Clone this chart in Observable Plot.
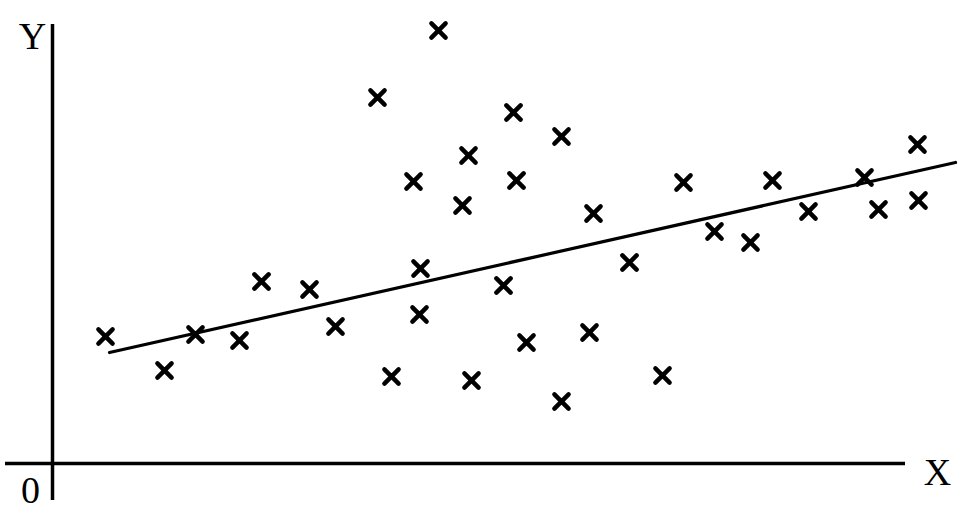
<!DOCTYPE html>
<html>
<head>
<meta charset="utf-8">
<script src="https://cdn.jsdelivr.net/npm/d3@7"></script>
<script src="https://cdn.jsdelivr.net/npm/@observablehq/plot@0.6"></script>
<style>
  html, body { margin: 0; padding: 0; background: #fff; }
  #chart svg { display: block; }
</style>
</head>
<body>
<div id="chart"></div>
<script>
// Scatter values (arbitrary units, origin at 0,0)
const xs = [5.3, 11.2, 14.3, 18.7, 20.9, 25.7, 28.3, 32.5, 33.9, 36.1, 36.8, 36.7, 38.6, 41.0, 41.6, 41.9, 45.1, 46.1, 46.4, 47.4, 50.9, 50.9, 53.7, 54.1, 57.7, 61.0, 63.1, 66.2, 69.8, 72.0, 75.6, 81.2, 82.6, 86.5, 86.6];
const ys = [12.7, 9.3, 12.9, 12.3, 18.2, 17.4, 13.7, 36.6, 8.7, 28.2, 19.5, 14.9, 43.3, 25.8, 30.8, 8.3, 17.8, 35.1, 28.3, 12.1, 32.7, 6.2, 13.1, 25.0, 20.1, 8.8, 28.1, 23.2, 22.1, 28.3, 25.2, 28.6, 25.4, 31.9, 26.3];
// Fitted line endpoints
const fitX = [5.7, 90.3];
const fitY = [11.1, 30.1];
// Axis extents and labels
const axisXExtent = [-4.7, 85.3];
const axisYExtent = [-3.7, 43.9];
const axisLabels = [
  {text: "Y", x: -2.0, y: 42.7},
  {text: "0", x: -2.2, y: -2.7},
  {text: "X", x: 88.5, y: -0.9}
];

const points = xs.map((x, i) => ({x, y: ys[i]}));
const fit = fitX.map((x, i) => ({x, y: fitY[i]}));

const chart = Plot.plot({
  width: 958,
  height: 522,
  margin: 0,
  x: {domain: [-5.2, 90.6], axis: null},
  y: {domain: [-5.9, 46.3], axis: null},
  marks: [
    Plot.ruleY([0], {x1: axisXExtent[0], x2: axisXExtent[1], stroke: "black", strokeWidth: 3.5}),
    Plot.ruleX([0], {y1: axisYExtent[0], y2: axisYExtent[1], stroke: "black", strokeWidth: 3.5}),
    Plot.line(fit, {x: "x", y: "y", stroke: "black", strokeWidth: 3.2}),
    Plot.dot(points, {x: "x", y: "y", symbol: "times", r: 6.5, stroke: "black", strokeWidth: 4.5, strokeLinecap: "round"}),
    Plot.text(axisLabels, {x: "x", y: "y", text: "text", fontSize: 38, fontFamily: "Liberation Serif", fill: "black"})
  ]
});
document.getElementById("chart").appendChild(chart);
</script>
</body>
</html>
